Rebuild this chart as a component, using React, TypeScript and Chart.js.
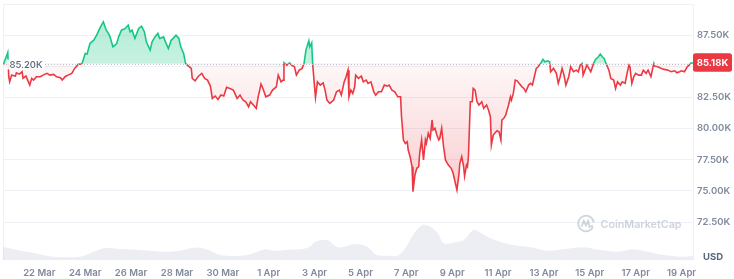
import React, { useEffect, useRef } from 'react';
import { Chart, registerables } from 'chart.js';

Chart.register(...registerables);

// ---- data ----
const BASE_PRICE = 85.2; // K USD, first value / reference line
const baseLabel = '85.20K';
const lastLabel = '85.18K';
const axisUnit = 'USD';
const watermark = 'CoinMarketCap';

// hours relative to 22 Mar 00:00
const xTickHours = [0, 48, 96, 144, 192, 240, 288, 336, 384, 432, 480, 528, 576, 624, 672];
const xTickLabels = ['22 Mar', '24 Mar', '26 Mar', '28 Mar', '30 Mar', '1 Apr', '3 Apr', '5 Apr', '7 Apr', '9 Apr', '11 Apr', '13 Apr', '15 Apr', '17 Apr', '19 Apr'];
const yTickValues = [72.5, 75, 77.5, 80, 82.5, 85, 87.5, 90];

const priceHours = [
  -38, -37, -33, -32, -31, -29, -25, -24, -21, -18, -17, -14, -10, -8, -6, -3, 1, 4, 8, 11,
  15, 18, 22, 24, 27, 30, 34, 37, 41, 44, 45, 48, 50, 53, 57, 60, 64, 67, 70, 72,
  74, 77, 81, 83, 86, 90, 93, 95, 97, 100, 104, 107, 110, 112, 116, 118, 121, 124, 126, 130,
  132, 135, 138, 140, 143, 146, 148, 151, 153, 156, 159, 160, 163, 166, 170, 173, 176, 179, 181, 184,
  187, 190, 193, 196, 200, 203, 207, 210, 213, 216, 219, 221, 224, 227, 229, 232, 234, 237, 241, 244,
  248, 250, 253, 255, 256, 259, 262, 264, 267, 269, 272, 275, 277, 279, 282, 283, 285, 286, 288, 289,
  291, 294, 297, 299, 301, 304, 308, 311, 314, 316, 319, 321, 323, 324, 326, 328, 330, 331, 334, 337,
  339, 342, 344, 347, 350, 352, 355, 358, 361, 364, 366, 369, 372, 375, 378, 379, 381, 383, 385, 386,
  388, 390, 391, 393, 395, 397, 398, 400, 402, 404, 405, 407, 409, 411, 412, 414, 416, 418, 419, 421,
  423, 425, 428, 431, 433, 435, 437, 439, 440, 442, 444, 445, 447, 448, 449, 451, 453, 454, 456, 458,
  460, 463, 465, 468, 470, 472, 473, 475, 477, 479, 481, 483, 484, 486, 488, 491, 493, 494, 496, 498,
  500, 502, 505, 507, 509, 512, 514, 516, 518, 520, 522, 525, 527, 529, 532, 534, 535, 538, 541, 543,
  545, 547, 549, 551, 554, 556, 559, 562, 564, 566, 568, 569, 571, 573, 575, 577, 580, 582, 585, 587,
  589, 591, 593, 596, 598, 601, 603, 605, 608, 610, 613, 615, 617, 618, 620, 622, 624, 627, 630, 632,
  635, 637, 640, 643, 644, 647, 651, 654, 658, 661, 665, 667, 670, 672, 675, 678, 680, 682, 684,
];
const prices = [
  85.2, 85.28, 86.11, 84.16, 83.75, 84.29, 84.21, 84.48, 84.37, 84.56, 84.03, 84.21, 83.49, 84.03, 83.89, 84.16, 84.16, 84.29, 84.43, 84.29,
  84.35, 84.16, 84.08, 83.89, 84.16, 84.29, 84.43, 84.83, 85.17, 85.17, 85.28, 86.03, 85.98, 86.83, 87.1, 87.5, 88.17, 88.57, 87.9, 87.68,
  87.36, 86.56, 86.83, 87.36, 87.9, 88.04, 88.3, 87.76, 87.9, 87.24, 88.04, 88.22, 87.76, 86.96, 86.3, 86.96, 87.36, 87.64, 87.24, 87.36,
  86.96, 86.43, 87.1, 87.24, 87.5, 87.24, 86.56, 86.03, 85.23, 85.01, 84.83, 84.03, 83.83, 84.16, 84.43, 84.03, 83.89, 83.41, 82.42, 82.61,
  82.34, 82.69, 82.61, 83.31, 83.2, 83.09, 82.42, 82.69, 82.29, 82.15, 81.75, 82.15, 81.89, 81.62, 82.55, 83.57, 83.22, 82.55, 82.69, 83.09,
  83.35, 84.29, 83.75, 83.89, 85.28, 85.09, 85.28, 85.09, 84.96, 84.29, 84.69, 84.83, 85.23, 86.3, 87.04, 86.56, 86.88, 85.23, 83.35, 82.5,
  83.75, 83.49, 83.67, 83.09, 82.29, 82.02, 82.29, 82.95, 83.09, 82.69, 83.75, 84.16, 84.69, 82.55, 83.09, 82.82, 83.35, 84.29, 84.03, 84.21,
  83.75, 83.89, 83.63, 83.75, 82.95, 82.69, 82.95, 82.95, 83.49, 83.41, 83.49, 83.09, 82.95, 82.55, 82.55, 80.95, 79.08, 78.81, 78.94, 78.28,
  77.74, 76.94, 74.93, 76.27, 76.81, 76.94, 78.01, 79.08, 77.48, 79.08, 78.81, 79.62, 79.21, 80.68, 79.88, 80.02, 79.48, 79.08, 79.21, 80.02,
  78.54, 77.48, 77.07, 76.81, 76.41, 75.73, 75.07, 76.27, 77.21, 77.74, 76.94, 76.19, 77.07, 76.94, 77.74, 82.15, 82.15, 83.22, 83.09, 82.15,
  81.89, 82.15, 81.62, 81.89, 81.49, 80.95, 78.68, 79.48, 79.66, 79.82, 79.74, 79.08, 80.68, 80.82, 81.08, 81.89, 82.55, 82.29, 82.82, 83.89,
  83.83, 83.63, 83.35, 83.22, 82.95, 83.49, 83.63, 83.49, 84.16, 84.83, 84.96, 85.28, 85.55, 85.36, 85.44, 85.36, 84.56, 84.83, 84.43, 83.63,
  84.16, 84.83, 84.29, 83.49, 84.16, 84.96, 84.56, 84.69, 84.56, 85.09, 85.23, 84.29, 84.69, 85.09, 84.83, 84.56, 85.23, 85.55, 85.76, 85.98,
  85.76, 85.63, 85.23, 84.69, 84.03, 83.89, 83.22, 83.75, 83.49, 83.75, 83.63, 84.43, 85.09, 84.96, 83.63, 84.16, 84.43, 84.29, 84.29, 84.69,
  84.43, 84.69, 84.16, 85.23, 85.01, 84.96, 84.83, 84.75, 84.69, 84.56, 84.64, 84.48, 84.56, 84.64, 84.56, 84.96, 85.09, 85.28, 85.24,
];

// 24h volume, billions USD
const volumeHours = [
  -38, -31, -20, -7, 4, 14, 29, 43, 53, 64, 71, 81, 92, 105, 119, 134, 147, 158, 168, 179,
  189, 203, 217, 224, 236, 245, 259, 273, 283, 289, 301, 312, 322, 330, 343, 353, 364, 375, 383, 391,
  401, 409, 417, 423, 433, 444, 454, 461, 472, 482, 496, 514, 531, 548, 569, 587, 605, 621, 636, 653,
  671, 684,
];
const volumes = [
  28.5, 25.0, 19.9, 15.6, 10.7, 7.1, 5.8, 7.1, 14.3, 22.9, 26.3, 24.2, 22.9, 21.4, 19.3, 17.8, 19.9, 25.0, 26.3, 19.9,
  10.7, 8.6, 10.7, 14.3, 22.9, 19.9, 21.4, 22.9, 28.5, 39.2, 42.8, 27.2, 30.0, 34.2, 28.5, 10.7, 9.2, 9.2, 25.0, 53.5,
  74.9, 71.3, 57.1, 35.7, 37.0, 42.8, 64.2, 58.9, 46.4, 39.2, 32.1, 27.2, 19.9, 22.9, 27.2, 21.4, 17.8, 22.9, 17.8, 10.7,
  7.1, 8.6,
];

// ---- styles ----
const GREEN = '#16c784';
const RED = '#ea3943';
const GRID = '#eef1f5';
const TICK = '#808a9d';
const FONT = 'Inter, "Noto Sans", sans-serif';

function lineGradient(chart: any) {
  const { chartArea, scales, ctx } = chart;
  if (!chartArea) return RED;
  const yb = scales.y.getPixelForValue(BASE_PRICE);
  const h = chartArea.bottom - chartArea.top;
  let s = (yb - chartArea.top) / h;
  s = Math.min(1, Math.max(0, s));
  const g = ctx.createLinearGradient(0, chartArea.top, 0, chartArea.bottom);
  g.addColorStop(0, GREEN);
  g.addColorStop(s, GREEN);
  g.addColorStop(s, RED);
  g.addColorStop(1, RED);
  return g;
}

function fillGradient(chart: any) {
  const { chartArea, scales, ctx } = chart;
  if (!chartArea) return 'rgba(234,57,67,0.1)';
  const yb = scales.y.getPixelForValue(BASE_PRICE);
  const h = chartArea.bottom - chartArea.top;
  let s = (yb - chartArea.top) / h;
  s = Math.min(1, Math.max(0, s));
  const g = ctx.createLinearGradient(0, chartArea.top, 0, chartArea.bottom);
  g.addColorStop(0, 'rgba(22,199,132,0.36)');
  g.addColorStop(s, 'rgba(22,199,132,0.24)');
  g.addColorStop(s, 'rgba(234,57,67,0.04)');
  g.addColorStop(1, 'rgba(234,57,67,0.36)');
  return g;
}

function roundRect(ctx: CanvasRenderingContext2D, x: number, y: number, w: number, h: number, r: number) {
  ctx.beginPath();
  ctx.moveTo(x + r, y);
  ctx.lineTo(x + w - r, y);
  ctx.quadraticCurveTo(x + w, y, x + w, y + r);
  ctx.lineTo(x + w, y + h - r);
  ctx.quadraticCurveTo(x + w, y + h, x + w - r, y + h);
  ctx.lineTo(x + r, y + h);
  ctx.quadraticCurveTo(x, y + h, x, y + h - r);
  ctx.lineTo(x, y + r);
  ctx.quadraticCurveTo(x, y, x + r, y);
  ctx.closePath();
}

const overlayPlugin = {
  id: 'overlay',
  beforeDatasetsDraw(chart: any) {
    const { ctx, chartArea } = chart;
    ctx.save();
    // left frame line
    ctx.strokeStyle = GRID;
    ctx.lineWidth = 1;
    ctx.beginPath();
    ctx.moveTo(chartArea.left + 0.5, chartArea.top);
    ctx.lineTo(chartArea.left + 0.5, chartArea.bottom);
    ctx.stroke();

    // watermark
    const wmColor = 'rgba(166,176,195,0.55)';
    const cx = chartArea.right - 107;
    const cy = chartArea.bottom - 36.5;
    ctx.strokeStyle = wmColor;
    ctx.lineWidth = 1.8;
    ctx.beginPath();
    ctx.arc(cx, cy, 7.8, Math.PI * 0.15, Math.PI * 1.95);
    ctx.stroke();
    ctx.beginPath();
    ctx.moveTo(cx - 4.5, cy + 3);
    ctx.lineTo(cx - 2.2, cy - 2.5);
    ctx.lineTo(cx, cy + 2);
    ctx.lineTo(cx + 2.2, cy - 2.5);
    ctx.lineTo(cx + 3.5, cy + 3.5);
    ctx.lineTo(cx + 7, cy + 2);
    ctx.stroke();
    let fs = 13;
    ctx.font = `600 ${fs}px ${FONT}`;
    const w = ctx.measureText(watermark).width;
    fs = fs * 81 / w;
    ctx.font = `600 ${fs}px ${FONT}`;
    ctx.fillStyle = wmColor;
    ctx.textAlign = 'left';
    ctx.textBaseline = 'middle';
    ctx.fillText(watermark, cx + 14.5, cy + 1.5);
    ctx.restore();
  },
  afterDatasetsDraw(chart: any) {
    const { ctx, chartArea, scales } = chart;
    const yb = Math.round(scales.y.getPixelForValue(BASE_PRICE)) + 0.5;
    ctx.save();
    ctx.strokeStyle = '#b8c0cc';
    ctx.lineWidth = 1;
    ctx.setLineDash([1, 2]);
    ctx.beginPath();
    ctx.moveTo(chartArea.left, yb);
    ctx.lineTo(chartArea.right, yb);
    ctx.stroke();
    ctx.setLineDash([]);

    // base label
    ctx.font = `500 9.5px ${FONT}`;
    const tw = ctx.measureText(baseLabel).width;
    ctx.fillStyle = 'rgba(255,255,255,0.85)';
    ctx.fillRect(chartArea.left + 4, yb - 5, tw + 5, 10);
    ctx.fillStyle = '#58667e';
    ctx.textAlign = 'left';
    ctx.textBaseline = 'middle';
    ctx.fillText(baseLabel, chartArea.left + 6.5, yb + 0.5);
    ctx.restore();
  },
  afterDraw(chart: any) {
    const { ctx, chartArea, scales } = chart;
    ctx.save();
    // last price box
    const lastY = scales.y.getPixelForValue(prices[prices.length - 1]);
    ctx.fillStyle = RED;
    roundRect(ctx, chartArea.right, lastY - 10, 39, 18.5, 2.5);
    ctx.fill();
    ctx.fillStyle = '#ffffff';
    ctx.font = `700 9.5px ${FONT}`;
    ctx.textAlign = 'center';
    ctx.textBaseline = 'middle';
    ctx.fillText(lastLabel, chartArea.right + 19.5, lastY - 0.5);

    // unit
    ctx.fillStyle = '#58667e';
    ctx.font = `700 9.5px ${FONT}`;
    ctx.textAlign = 'left';
    ctx.fillText(axisUnit, chartArea.right + 10, chartArea.bottom - 3);
    ctx.restore();
  },
};

export default function App() {
  const canvasRef = useRef<HTMLCanvasElement | null>(null);

  useEffect(() => {
    document.body.style.margin = '0';
    const canvas = canvasRef.current;
    if (!canvas) return;

    const priceData = priceHours.map((h, i) => ({ x: h, y: prices[i] }));
    const volumeData = volumeHours.map((h, i) => ({ x: h, y: volumes[i] }));

    const chart = new Chart(canvas, {
      type: 'line',
      data: {
        datasets: [
          {
            label: 'Price',
            data: priceData,
            yAxisID: 'y',
            borderColor: (c: any) => lineGradient(c.chart),
            backgroundColor: (c: any) => fillGradient(c.chart),
            borderWidth: 1.6,
            pointRadius: 0,
            tension: 0,
            fill: { target: { value: BASE_PRICE } },
            order: 1,
          } as any,
          {
            label: 'Volume',
            data: volumeData,
            yAxisID: 'yV',
            borderWidth: 0,
            borderColor: 'rgba(0,0,0,0)',
            backgroundColor: 'rgba(196,204,218,0.33)',
            pointRadius: 0,
            tension: 0.3,
            fill: 'start',
            order: 2,
          } as any,
        ],
      },
      options: {
        responsive: false,
        animation: false,
        devicePixelRatio: 1,
        layout: { padding: { top: 4, left: 3, right: 0, bottom: 0 } },
        plugins: {
          legend: { display: false },
          tooltip: { enabled: false },
        },
        scales: {
          x: {
            type: 'linear',
            min: -38,
            max: 684,
            grid: { display: false, drawTicks: false },
            border: { display: false },
            afterBuildTicks: (scale: any) => {
              scale.ticks = xTickHours.map((v) => ({ value: v }));
            },
            afterFit: (scale: any) => {
              scale.height = 19;
              scale.paddingLeft = 0;
              scale.paddingRight = 0;
            },
            ticks: {
              autoSkip: false,
              maxRotation: 0,
              padding: 7,
              color: TICK,
              font: { family: FONT, size: 9.5, weight: '600' as any },
              callback: (_v: any, i: number) => xTickLabels[i],
            },
          },
          y: {
            type: 'linear',
            position: 'right',
            min: 69.45,
            max: 90,
            grid: { color: GRID, drawTicks: false, lineWidth: 1 },
            border: { display: true, color: GRID },
            afterBuildTicks: (scale: any) => {
              scale.ticks = yTickValues.map((v) => ({ value: v }));
            },
            afterFit: (scale: any) => {
              scale.width = 41;
              scale.paddingTop = 0;
              scale.paddingBottom = 0;
            },
            ticks: {
              padding: 4,
              color: TICK,
              font: { family: FONT, size: 9.5, weight: '600' as any },
              callback: (v: any) => (v >= 90 ? '' : `${Number(v).toFixed(2)}K`),
            },
          },
          yV: {
            type: 'linear',
            display: false,
            min: 0,
            max: 548,
          },
        },
      },
      plugins: [overlayPlugin],
    });

    return () => chart.destroy();
  }, []);

  return (
    <div style={{ width: 734, height: 279 }}>
      <canvas ref={canvasRef} width={734} height={279} style={{ display: 'block' }} />
    </div>
  );
}
